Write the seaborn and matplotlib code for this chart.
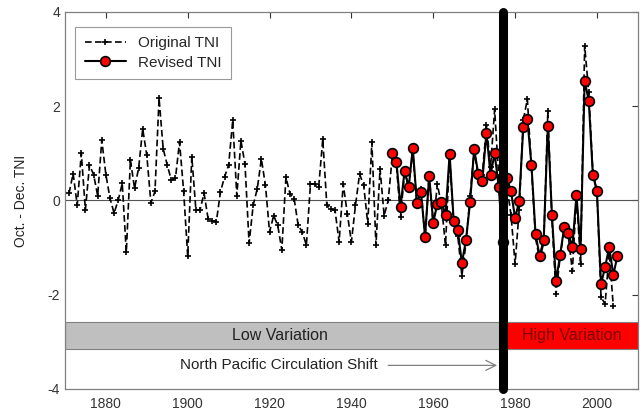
import numpy as np
import pandas as pd
import matplotlib
matplotlib.use("Agg")
import matplotlib.pyplot as plt
import seaborn as sns

# ---------------- data ----------------
orig_years = list(range(1871, 2005))
orig_tni = [
    0.15, 0.57, -0.10, 1.00, -0.20, 0.75, 0.55, 0.10, 1.28, 0.55,      # 1871-1880
    0.05, -0.27, 0.00, 0.36, -1.10, 0.86, 0.26, 0.68, 1.52, 0.96,      # 1881-1890
    -0.05, 0.19, 2.17, 1.10, 0.75, 0.43, 0.47, 1.24, 0.20, -1.18,      # 1891-1900
    0.93, -0.20, -0.20, 0.15, -0.40, -0.43, -0.45, 0.18, 0.50, 0.75,   # 1901-1910
    1.70, 0.10, 1.27, 0.77, -0.91, -0.10, 0.25, 0.88, 0.32, -0.67,     # 1911-1920
    -0.32, -0.53, -1.05, 0.49, 0.14, 0.04, -0.53, -0.67, -0.95, 0.35,  # 1921-1930
    0.35, 0.28, 1.30, -0.10, -0.18, -0.21, -0.88, 0.35, -0.28, -0.88,  # 1931-1940
    -0.10, 0.56, 0.32, -0.49, 1.23, -0.95, 0.67, -0.32, 0.00, 0.95,    # 1941-1950
    0.75, -0.35, 0.60, 0.30, 1.05, -0.10, 0.25, -0.80, 0.55, -0.55,    # 1951-1960
    0.35, -0.10, -0.95, 0.95, -0.50, -0.75, -1.60, -0.90, 0.10, 1.05,  # 1961-1970
    0.50, 0.55, 1.60, 0.70, 1.93, 0.50, -0.60, 0.30, -0.30, -1.35,     # 1971-1980
    -0.20, 1.70, 2.15, 0.70, -0.80, -1.25, -0.90, 1.89, -0.40, -1.99,  # 1981-1990
    -1.20, -0.60, -0.75, -1.50, 0.10, -1.35, 3.28, 2.30, 0.60, 0.20,   # 1991-2000
    -2.05, -2.20, -1.10, -2.25,                                        # 2001-2004
]

rev_years = list(range(1950, 2006))
rev_tni = [
    1.00, 0.82, -0.14, 0.63, 0.28, 1.11, -0.05, 0.18, -0.77, 0.51,     # 1950-1959
    -0.47, -0.07, -0.04, -0.30, 0.98, -0.44, -0.63, -1.33, -0.84, -0.04,  # 1960-1969
    1.09, 0.56, 0.42, 1.44, 0.54, 1.00, 0.28, -0.88, 0.47, 0.19,       # 1970-1979
    -0.37, -0.02, 1.56, 1.72, 0.75, -0.72, -1.18, -0.83, 1.59, -0.30,  # 1980-1989
    -1.72, -1.16, -0.57, -0.70, -0.99, 0.12, -1.04, 2.54, 2.12, 0.55,  # 1990-1999
    0.19, -1.78, -1.41, -0.99, -1.58, -1.18,                           # 2000-2005
]

shift_year = 1977
x_ticks = [1880, 1900, 1920, 1940, 1960, 1980, 2000]
y_ticks = [-4, -2, 0, 2, 4]

df_orig = pd.DataFrame({"year": orig_years, "tni": orig_tni})
df_rev = pd.DataFrame({"year": rev_years, "tni": rev_tni})

# ---------------- plot ----------------
sns.set_style("white")
plt.rcParams["font.family"] = ["Liberation Sans", "DejaVu Sans"]

fig = plt.figure(figsize=(6.43, 4.12), dpi=100)
ax = fig.add_axes([0.101, 0.056, 0.891, 0.915])

ax.set_xlim(1870, 2010)
ax.set_ylim(-4, 4)

# zero line
ax.axhline(0, color="#555555", lw=0.8, zorder=1)

# bands
ax.fill_between([1870, shift_year], -3.15, -2.58, color="#bfbfbf",
                edgecolor="#808080", lw=0.8, zorder=1)
ax.fill_between([shift_year, 2010], -3.15, -2.58, color="#ff0000",
                edgecolor="#808080", lw=0.8, zorder=1)
ax.text(1922.5, -2.87, "Low Variation", ha="center", va="center",
        fontsize=11.5, color="#222222")
ax.text(1993.8, -2.87, "High Variation", ha="center", va="center",
        fontsize=11.5, color="#7a0000")

sns.lineplot(data=df_orig, x="year", y="tni", ax=ax, color="black",
             linestyle=(0, (4, 2)), lw=1.2, marker="+", markersize=5,
             markeredgewidth=1.2, markeredgecolor="black",
             label="Original TNI", zorder=3)
sns.lineplot(data=df_rev, x="year", y="tni", ax=ax, color="black",
             lw=1.5, marker="o", markersize=7, markerfacecolor="#ff0000",
             markeredgecolor="black", markeredgewidth=1.2,
             label="Revised TNI", zorder=4)

# regime shift line
ax.plot([shift_year, shift_year], [-4, 4], color="black", lw=6.5,
        solid_capstyle="round", zorder=5, clip_on=False)

ax.annotate("", xy=(shift_year - 0.7, -3.5), xytext=(1948.3, -3.5),
            arrowprops=dict(arrowstyle="->", color="#808080", lw=0.9,
                            mutation_scale=18))
ax.text(1922.3, -3.5, "North Pacific Circulation Shift", ha="center",
        va="center", fontsize=11, color="#222222")

ax.set_xticks(x_ticks)
ax.set_yticks(y_ticks)
ax.set_xticklabels([str(t) for t in x_ticks])
ax.set_yticklabels([str(t) for t in y_ticks])
ax.tick_params(direction="in", length=4, width=0.8, colors="#333333",
               labelsize=10, top=True, right=True)
ax.tick_params(axis="x", pad=6)
for s in ax.spines.values():
    s.set_color("#808080")
    s.set_linewidth(0.9)

ax.set_xlabel("")
ax.set_ylabel("Oct. - Dec. TNI", fontsize=10, color="#222222", labelpad=14)

leg = ax.legend(loc="upper left", bbox_to_anchor=(0.005, 0.98), fontsize=11,
                frameon=True, fancybox=False, edgecolor="#808080",
                handlelength=2.7, borderpad=0.6, labelspacing=0.35)
leg.get_frame().set_linewidth(0.8)

fig.savefig("out.png", dpi=100)
